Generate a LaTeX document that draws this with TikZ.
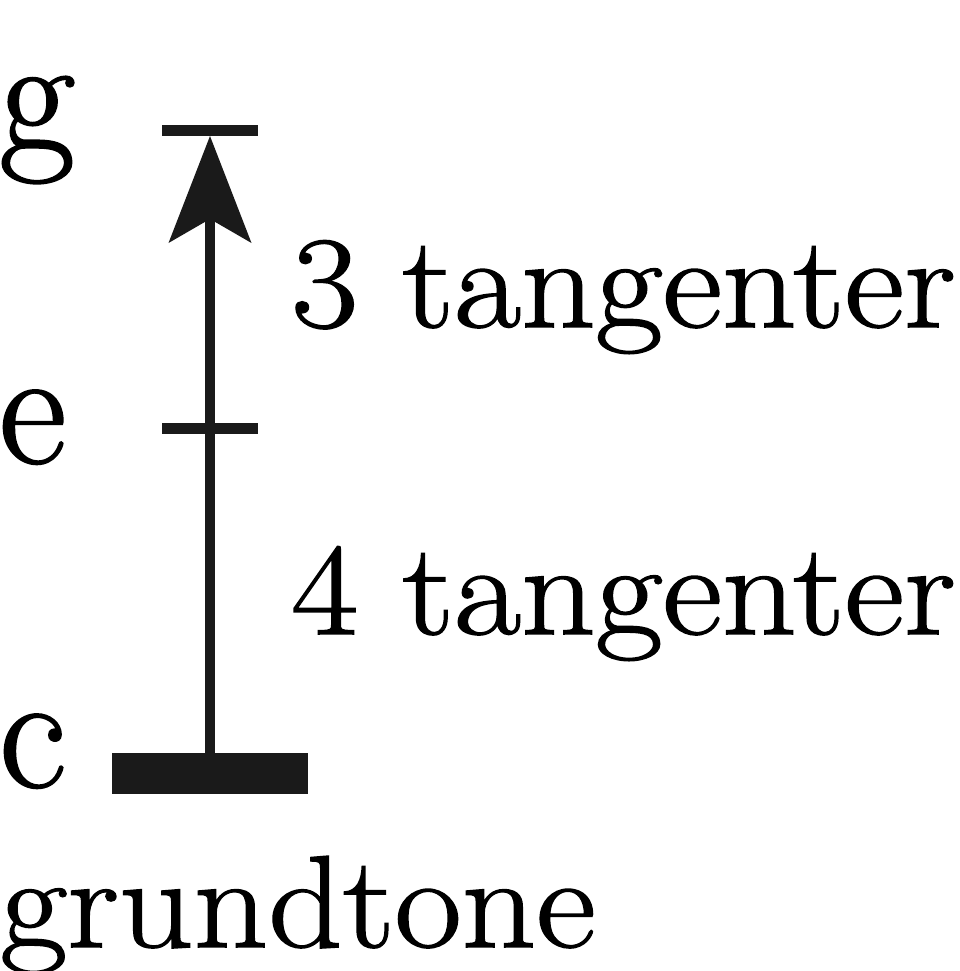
\documentclass[tikz,border=0pt]{standalone}
\usepackage{fontspec}
\setmainfont{Latin Modern Roman}[FakeBold=1.2]
\newfontfamily\widefont{Latin Modern Roman}[FakeStretch=1.115, FakeBold=1.2]
\usetikzlibrary{arrows.meta}
\definecolor{ink}{HTML}{1A1A1A}
\tikzset{
  lbl/.style={anchor=base west, inner sep=0pt, font=\fontsize{165}{165}\selectfont},
  txt/.style={anchor=base west, inner sep=0pt, font=\widefont\fontsize{131}{131}\selectfont},
  tick/.style={draw=ink, line width=11pt},
  stem/.style={draw=ink, line width=10pt, -{Stealth[length=107pt, width=83pt, inset=24pt, line width=0pt]}},
  basebar/.style={fill=ink, inner sep=0pt, minimum width=195.7pt, minimum height=41pt}
}
\begin{document}
\begin{tikzpicture}[x=1pt,y=-1pt]
\useasboundingbox (0,0) rectangle (959,971);
% ticks
\coordinate (gL) at (162,130.5);
\coordinate (gR) at (258,130.5);
\coordinate (eL) at (162,428);
\coordinate (eR) at (258,428);
\coordinate (tip) at (210,136);
\draw[tick] (gL) -- (gR);
\draw[tick] (eL) -- (eR);
\node[basebar] (bar) at (210,773.8) {};
\draw[stem] (bar.north) -- (tip);
% labels
\node[lbl] (lg) at (-1,150) {g};
\node[lbl] (le) at (-1,463) {e};
\node[lbl] (lc) at (-1,787) {c};
\node[txt] (t3) at (291,327) {3 tangenter};
\node[txt] (t4) at (291,634) {4 tangenter};
\node[txt] (gt) at (0,947) {grundtone};
\end{tikzpicture}
\end{document}
